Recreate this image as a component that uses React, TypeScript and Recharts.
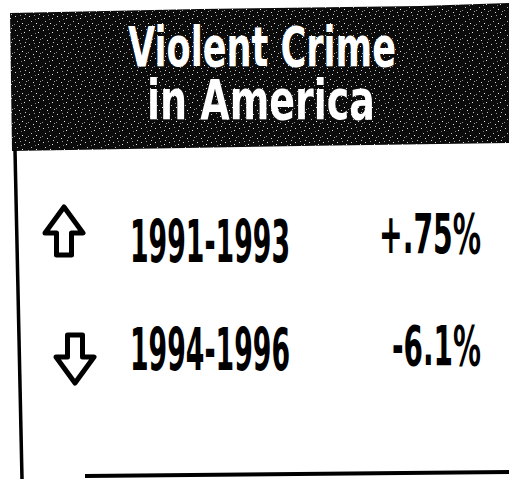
import React from 'react';
import { ComposedChart, Bar, XAxis, YAxis, Customized } from 'recharts';

const titleLines = ['Violent Crime', 'in America'];
const periods = ['1991-1993', '1994-1996'];
const changeLabels = ['+.75%', '-6.1%'];
const changeValues = [0.75, -6.1];
const directions = ['up', 'down'];

const data = periods.map((p, i) => ({
  period: p,
  change: changeLabels[i],
  value: changeValues[i],
  dir: directions[i],
}));

const W = 509;
const H = 479;
const FONT = "'Liberation Sans Narrow', 'DejaVu Sans Condensed', 'Roboto Condensed', Roboto, sans-serif";

const Arrow = ({ cx, cy, dir }: { cx: number; cy: number; dir: string }) => {
  const s = dir === 'up' ? 1 : -1;
  const d = [
    [cx, cy - 24 * s],
    [cx + 19, cy + 2 * s],
    [cx + 7.5, cy + 2 * s],
    [cx + 7.5, cy + 24 * s],
    [cx - 7.5, cy + 24 * s],
    [cx - 7.5, cy + 2 * s],
    [cx - 19, cy + 2 * s],
  ]
    .map((p, i) => `${i === 0 ? 'M' : 'L'}${p[0]},${p[1]}`)
    .join(' ') + ' Z';
  return <path d={d} fill="#fff" stroke="#000" strokeWidth={5} strokeLinejoin="round" />;
};

const PeriodTick = (props: any) => {
  const { x, y, payload } = props;
  const row = data.find((r) => r.period === payload.value);
  const dir = row ? row.dir : 'up';
  const ax = dir === 'up' ? x - 226 : x - 215;
  const ay = dir === 'up' ? y - 7 : y + 13;
  return (
    <g>
      <Arrow cx={ax} cy={ay} dir={dir} />
      <text
        x={x}
        y={y + 24}
        textAnchor="end"
        fontFamily={FONT}
        fontWeight="bold"
        fontSize={59}
        fill="#000"
        textLength={160}
        lengthAdjust="spacingAndGlyphs"
      >
        {payload.value}
      </text>
    </g>
  );
};

const ChangeTick = (props: any) => {
  const { x, y, payload } = props;
  const isNeg = String(payload.value).startsWith('-');
  return (
    <text
      x={x + 102}
      y={y + (isNeg ? 19 : 15)}
      textAnchor="end"
      fontFamily={FONT}
      fontWeight="bold"
      fontSize={56}
      fill="#000"
      textLength={isNeg ? 89 : 102}
      lengthAdjust="spacingAndGlyphs"
    >
      {payload.value}
    </text>
  );
};

const Frame = () => (
  <g>
    <defs>
      <pattern id="grain" width="14" height="14" patternUnits="userSpaceOnUse">
        <rect width="14" height="14" fill="#0b0b0b" />
        <rect x="1" y="2" width="1" height="1" fill="#d8d8d8" />
        <rect x="6" y="1" width="1" height="1" fill="#9a9a9a" />
        <rect x="10" y="4" width="1" height="1" fill="#e6e6e6" />
        <rect x="3" y="7" width="1" height="1" fill="#bdbdbd" />
        <rect x="8" y="9" width="1" height="1" fill="#f0f0f0" />
        <rect x="12" y="11" width="1" height="1" fill="#a5a5a5" />
        <rect x="5" y="12" width="1" height="1" fill="#dcdcdc" />
        <rect x="0" y="10" width="1" height="1" fill="#8c8c8c" />
        <rect x="11" y="0" width="1" height="1" fill="#c8c8c8" />
        <rect x="7" y="5" width="1" height="1" fill="#7f7f7f" />
      </pattern>
    </defs>
    <path d="M10,13 L200,9 L420,6 L509,3 L509,143 L300,146 L12,151 Z" fill="url(#grain)" />
    <text
      x={262}
      y={66}
      textAnchor="middle"
      fontFamily={FONT}
      fontWeight="bold"
      fontSize={55}
      fill="#fff"
      textLength={268}
      lengthAdjust="spacingAndGlyphs"
    >
      {titleLines[0]}
    </text>
    <text
      x={261}
      y={119}
      textAnchor="middle"
      fontFamily={FONT}
      fontWeight="bold"
      fontSize={55}
      fill="#fff"
      textLength={228}
      lengthAdjust="spacingAndGlyphs"
    >
      {titleLines[1]}
    </text>
    <path d="M15,150 L22,479" stroke="#000" strokeWidth={3.5} fill="none" />
    <path d="M85,476 L509,472" stroke="#000" strokeWidth={4} fill="none" />
  </g>
);

export default function App() {
  return (
    <div style={{ position: 'absolute', left: 0, top: 0, width: W, height: H, background: '#fff' }}>
      <ComposedChart
        width={W}
        height={H}
        data={data}
        layout="vertical"
        margin={{ top: 184, right: 0, bottom: 79, left: 0 }}
      >
        <XAxis type="number" hide domain={[-10, 10]} />
        <YAxis
          yAxisId="left"
          type="category"
          dataKey="period"
          width={300}
          axisLine={false}
          tickLine={false}
          tickSize={0}
          tickMargin={10}
          tick={<PeriodTick />}
        />
        <YAxis
          yAxisId="right"
          orientation="right"
          type="category"
          dataKey="change"
          width={130}
          axisLine={false}
          tickLine={false}
          tickSize={0}
          tickMargin={0}
          tick={<ChangeTick />}
        />
        <Bar yAxisId="left" dataKey="value" fill="none" isAnimationActive={false} />
        <Bar yAxisId="right" dataKey="value" fill="none" isAnimationActive={false} />
        <Customized component={Frame} />
      </ComposedChart>
    </div>
  );
}
